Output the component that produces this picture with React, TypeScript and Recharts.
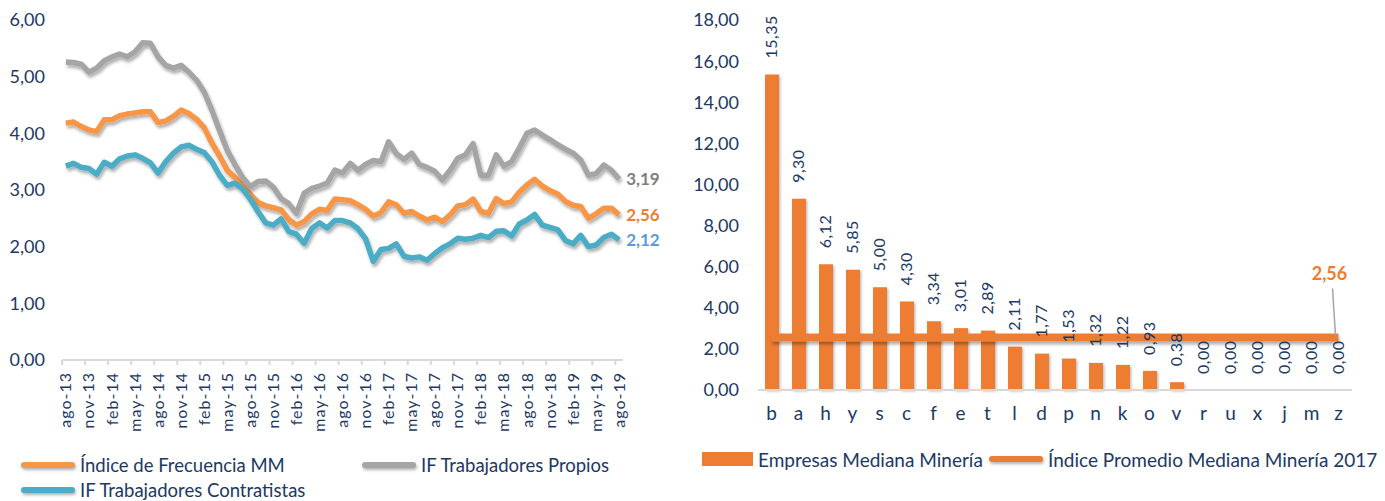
import React from 'react'
import { Bar, ComposedChart, LabelList, Line, LineChart, XAxis, YAxis } from 'recharts'

const NAVY = '#203864'

const MESES = ['ene', 'feb', 'mar', 'abr', 'may', 'jun', 'jul', 'ago', 'sep', 'oct', 'nov', 'dic']

// ago-13 .. ago-19, mensual
const periodos: string[] = []
for (let i = 0; i < 73; i++) {
	periodos.push(`${MESES[(7 + i) % 12]}-${13 + Math.floor((7 + i) / 12)}`)
}

const indiceMM = [
	4.18, 4.2, 4.12, 4.06, 4.03, 4.24, 4.24, 4.31, 4.34, 4.36, 4.38, 4.38, 4.19, 4.22, 4.3, 4.41, 4.35, 4.25,
	4.1, 3.83, 3.6, 3.35, 3.22, 3.08, 2.92, 2.78, 2.72, 2.69, 2.65, 2.48, 2.38, 2.44, 2.58, 2.66, 2.64, 2.84,
	2.83, 2.81, 2.74, 2.66, 2.54, 2.6, 2.79, 2.74, 2.59, 2.62, 2.54, 2.47, 2.52, 2.44, 2.56, 2.72, 2.74, 2.84,
	2.62, 2.59, 2.85, 2.76, 2.79, 2.96, 3.09, 3.19, 3.07, 2.99, 2.93, 2.8, 2.73, 2.71, 2.5, 2.58, 2.68, 2.68,
	2.56,
]

const propios = [
	5.26, 5.25, 5.22, 5.08, 5.15, 5.28, 5.35, 5.4, 5.35, 5.44, 5.6, 5.59, 5.35, 5.2, 5.15, 5.2, 5.08, 4.94,
	4.73, 4.41, 4.05, 3.7, 3.45, 3.22, 3.06, 3.15, 3.16, 3.05, 2.85, 2.76, 2.59, 2.94, 3.03, 3.07, 3.12, 3.35,
	3.3, 3.47, 3.35, 3.45, 3.52, 3.5, 3.85, 3.64, 3.54, 3.65, 3.45, 3.4, 3.33, 3.18, 3.35, 3.56, 3.62, 3.82,
	3.26, 3.26, 3.62, 3.42, 3.5, 3.74, 4.0, 4.06, 3.97, 3.89, 3.8, 3.72, 3.65, 3.53, 3.26, 3.29, 3.44, 3.35,
	3.19,
]

const contratistas = [
	3.42, 3.47, 3.4, 3.38, 3.28, 3.49, 3.42, 3.55, 3.6, 3.62, 3.56, 3.48, 3.3, 3.5, 3.65, 3.76, 3.79, 3.72,
	3.66, 3.5, 3.26, 3.08, 3.12, 3.02, 2.84, 2.62, 2.42, 2.38, 2.49, 2.27, 2.22, 2.06, 2.32, 2.42, 2.33, 2.46,
	2.46, 2.42, 2.32, 2.14, 1.74, 1.95, 1.97, 2.05, 1.83, 1.8, 1.82, 1.76, 1.88, 1.98, 2.05, 2.15, 2.13, 2.15,
	2.2, 2.16, 2.27, 2.28, 2.19, 2.4, 2.47, 2.57, 2.38, 2.34, 2.3, 2.11, 2.05, 2.2, 2.0, 2.03, 2.16, 2.22,
	2.12,
]

const empresas = ['b', 'a', 'h', 'y', 's', 'c', 'f', 'e', 't', 'l', 'd', 'p', 'n', 'k', 'o', 'v', 'r', 'u', 'x', 'j', 'm', 'z']
const indiceEmpresas = [
	15.35, 9.3, 6.12, 5.85, 5.0, 4.3, 3.34, 3.01, 2.89, 2.11, 1.77, 1.53, 1.32, 1.22, 0.93, 0.38, 0, 0, 0, 0, 0, 0,
]
const promedio2017 = 2.56

const ticksIzq = [0, 1, 2, 3, 4, 5, 6]
const ticksDer = [0, 2, 4, 6, 8, 10, 12, 14, 16, 18]

const lineData = periodos.map((periodo, i) => ({
	periodo,
	mm: indiceMM[i],
	propios: propios[i],
	contratistas: contratistas[i],
}))

const barData = empresas.map((empresa, i) => ({
	empresa,
	indice: indiceEmpresas[i],
	promedio: promedio2017,
}))

const fmt = (v: number) => v.toFixed(2).replace('.', ',')

const pos = (props: any) => ({
	x: props.viewBox?.x ?? props.x,
	y: props.viewBox?.y ?? props.y,
})

const PeriodTick = (props: any) => {
	const { x, y, payload } = props
	const ty = y + 12
	return (
		<g>
			<line
				stroke="#d9d9d9"
				strokeWidth={2}
				x1={x - 3.85}
				x2={x - 3.85}
				y1={y}
				y2={y + 5}
			/>
			<text
				dy="0.35em"
				fill={NAVY}
				fontSize={16}
				letterSpacing={1}
				textAnchor="end"
				transform={`rotate(-90, ${x}, ${ty})`}
				x={x}
				y={ty}
			>
				{payload.value}
			</text>
		</g>
	)
}

const endLabel = (color: string) => (props: any) => {
	if (props.index !== periodos.length - 1) return null
	const { x, y } = pos(props)
	return (
		<text
			dy="0.35em"
			fill={color}
			fontSize={17}
			fontWeight="bold"
			x={x + 7}
			y={y}
		>
			{fmt(props.value)}
		</text>
	)
}

// etiqueta rotada sobre cada barra (se ancla al punto del valor)
const BarLabel = (props: any) => {
	const { x, y } = pos(props)
	const ty = y - 16
	return (
		<text
			dy="0.35em"
			fill={NAVY}
			fontSize={16}
			letterSpacing={0.5}
			textAnchor="start"
			transform={`rotate(-90, ${x}, ${ty})`}
			x={x}
			y={ty}
		>
			{fmt(props.value)}
		</text>
	)
}

const PromedioLabel = (props: any) => {
	if (props.index !== empresas.length - 1) return null
	const { x, y } = pos(props)
	return (
		<g>
			<line
				stroke="#a6a6a6"
				strokeWidth={1.5}
				x1={x - 6}
				x2={x - 3}
				y1={y - 49}
				y2={y - 2}
			/>
			<text
				fill="#ED7D31"
				fontSize={18}
				fontWeight="bold"
				textAnchor="middle"
				x={x - 9}
				y={y - 57}
			>
				{fmt(props.value)}
			</text>
		</g>
	)
}

const LegendItem = ({
	left,
	top,
	color,
	label,
	swatch,
	fontSize,
}: {
	left: number
	top: number
	color: string
	label: string
	swatch: 'line' | 'bar'
	fontSize: number
}) => (
	<div
		style={{
			position: 'absolute',
			left,
			top,
			height: 20,
			display: 'flex',
			alignItems: 'center',
			whiteSpace: 'nowrap',
			color: NAVY,
			fontSize,
			lineHeight: 1,
		}}
	>
		<svg
			height={20}
			style={{ overflow: 'visible' }}
			width={swatch === 'bar' ? 52 : 56}
		>
			{swatch === 'bar' ? (
				<rect
					fill={color}
					height={14}
					width={51}
					x={0}
					y={3}
				/>
			) : (
				<line
					stroke={color}
					strokeLinecap="round"
					strokeWidth={6}
					style={{ filter: 'drop-shadow(1px 2px 1.5px rgba(0,0,0,0.3))' }}
					x1={4}
					x2={52}
					y1={10}
					y2={10}
				/>
			)}
		</svg>
		<span style={{ marginLeft: 4, lineHeight: 1 }}>{label}</span>
	</div>
)

export default function App() {
	return (
		<div
			style={{
				position: 'absolute',
				left: 0,
				top: 0,
				width: 1385,
				height: 501,
				background: '#fff',
				fontFamily: 'Lato, "Noto Sans", sans-serif',
				overflow: 'hidden',
			}}
		>
			<div style={{ position: 'absolute', left: 0, top: 0 }}>
				<LineChart
					data={lineData}
					height={501}
					margin={{ top: 20, right: 42, bottom: 0, left: 0 }}
					width={665}
				>
					<defs>
						<filter
							filterUnits="userSpaceOnUse"
							height={501}
							id="sombraLinea"
							width={665}
							x={0}
							y={0}
						>
							<feDropShadow
								dx="1.5"
								dy="3"
								floodColor="#000"
								floodOpacity="0.3"
								stdDeviation="1.8"
							/>
						</filter>
					</defs>
					<XAxis
						axisLine={{ stroke: '#d9d9d9', strokeWidth: 2 }}
						dataKey="periodo"
						height={141}
						interval={2}
						padding={{ left: 3.85, right: 3.85 }}
						tick={<PeriodTick />}
						tickLine={false}
						tickMargin={0}
						tickSize={0}
					/>
					<YAxis
						axisLine={false}
						domain={[0, 6]}
						tick={{ fill: NAVY, fontSize: 18 }}
						tickFormatter={fmt}
						tickLine={false}
						tickMargin={11}
						ticks={ticksIzq}
						width={62}
					/>
					<Line
						dataKey="mm"
						dot={false}
						filter="url(#sombraLinea)"
						isAnimationActive={false}
						stroke="#F79646"
						strokeLinejoin="round"
						strokeWidth={5.5}
						type="linear"
					>
						<LabelList
							content={endLabel('#ED7D31')}
							dataKey="mm"
						/>
					</Line>
					<Line
						dataKey="propios"
						dot={false}
						filter="url(#sombraLinea)"
						isAnimationActive={false}
						stroke="#A5A5A5"
						strokeLinejoin="round"
						strokeWidth={5.5}
						type="linear"
					>
						<LabelList
							content={endLabel('#7F7F7F')}
							dataKey="propios"
						/>
					</Line>
					<Line
						dataKey="contratistas"
						dot={false}
						filter="url(#sombraLinea)"
						isAnimationActive={false}
						stroke="#4BACC6"
						strokeLinejoin="round"
						strokeWidth={5.5}
						type="linear"
					>
						<LabelList
							content={endLabel('#5B9BD5')}
							dataKey="contratistas"
						/>
					</Line>
				</LineChart>
			</div>

			<LegendItem
				color="#F79646"
				fontSize={18.5}
				label="Índice de Frecuencia MM"
				left={20}
				swatch="line"
				top={455}
			/>
			<LegendItem
				color="#A5A5A5"
				fontSize={18.5}
				label="IF Trabajadores Propios"
				left={361}
				swatch="line"
				top={455}
			/>
			<LegendItem
				color="#4BACC6"
				fontSize={18.5}
				label="IF Trabajadores Contratistas"
				left={20}
				swatch="line"
				top={480}
			/>

			<div style={{ position: 'absolute', left: 660, top: 0 }}>
				<ComposedChart
					data={barData}
					height={501}
					margin={{ top: 20, right: 33, bottom: 0, left: 0 }}
					width={725}
				>
					<defs>
						<filter
							filterUnits="userSpaceOnUse"
							height={501}
							id="sombraBarra"
							width={725}
							x={0}
							y={0}
						>
							<feDropShadow
								dx="1.5"
								dy="1.5"
								floodColor="#000"
								floodOpacity="0.25"
								stdDeviation="1.2"
							/>
						</filter>
						<filter
							filterUnits="userSpaceOnUse"
							height={501}
							id="sombraPromedio"
							width={725}
							x={0}
							y={0}
						>
							<feDropShadow
								dx="1"
								dy="3"
								floodColor="#000"
								floodOpacity="0.3"
								stdDeviation="1.8"
							/>
						</filter>
					</defs>
					<XAxis
						axisLine={{ stroke: '#d9d9d9', strokeWidth: 2 }}
						dataKey="empresa"
						height={111}
						interval={0}
						tick={{ fill: NAVY, fontSize: 19 }}
						tickLine={false}
						tickMargin={11}
					/>
					<YAxis
						axisLine={false}
						domain={[0, 18]}
						tick={{ fill: NAVY, fontSize: 18 }}
						tickFormatter={fmt}
						tickLine={false}
						tickMargin={13}
						ticks={ticksDer}
						width={98}
					/>
					<Bar
						barSize={14}
						dataKey="indice"
						fill="#ED7D31"
						filter="url(#sombraBarra)"
						isAnimationActive={false}
					/>
					<Line
						dataKey="indice"
						dot={false}
						isAnimationActive={false}
						legendType="none"
						stroke="none"
					>
						<LabelList
							content={BarLabel}
							dataKey="indice"
						/>
					</Line>
					<Line
						dataKey="promedio"
						dot={false}
						filter="url(#sombraPromedio)"
						isAnimationActive={false}
						stroke="#ED7D31"
						strokeWidth={8}
						type="linear"
					>
						<LabelList
							content={PromedioLabel}
							dataKey="promedio"
						/>
					</Line>
				</ComposedChart>
			</div>

			<LegendItem
				color="#ED7D31"
				fontSize={19}
				label="Empresas Mediana Minería"
				left={702}
				swatch="bar"
				top={449}
			/>
			<LegendItem
				color="#ED7D31"
				fontSize={19}
				label="Índice Promedio Mediana Minería 2017"
				left={988}
				swatch="line"
				top={449}
			/>
		</div>
	)
}
